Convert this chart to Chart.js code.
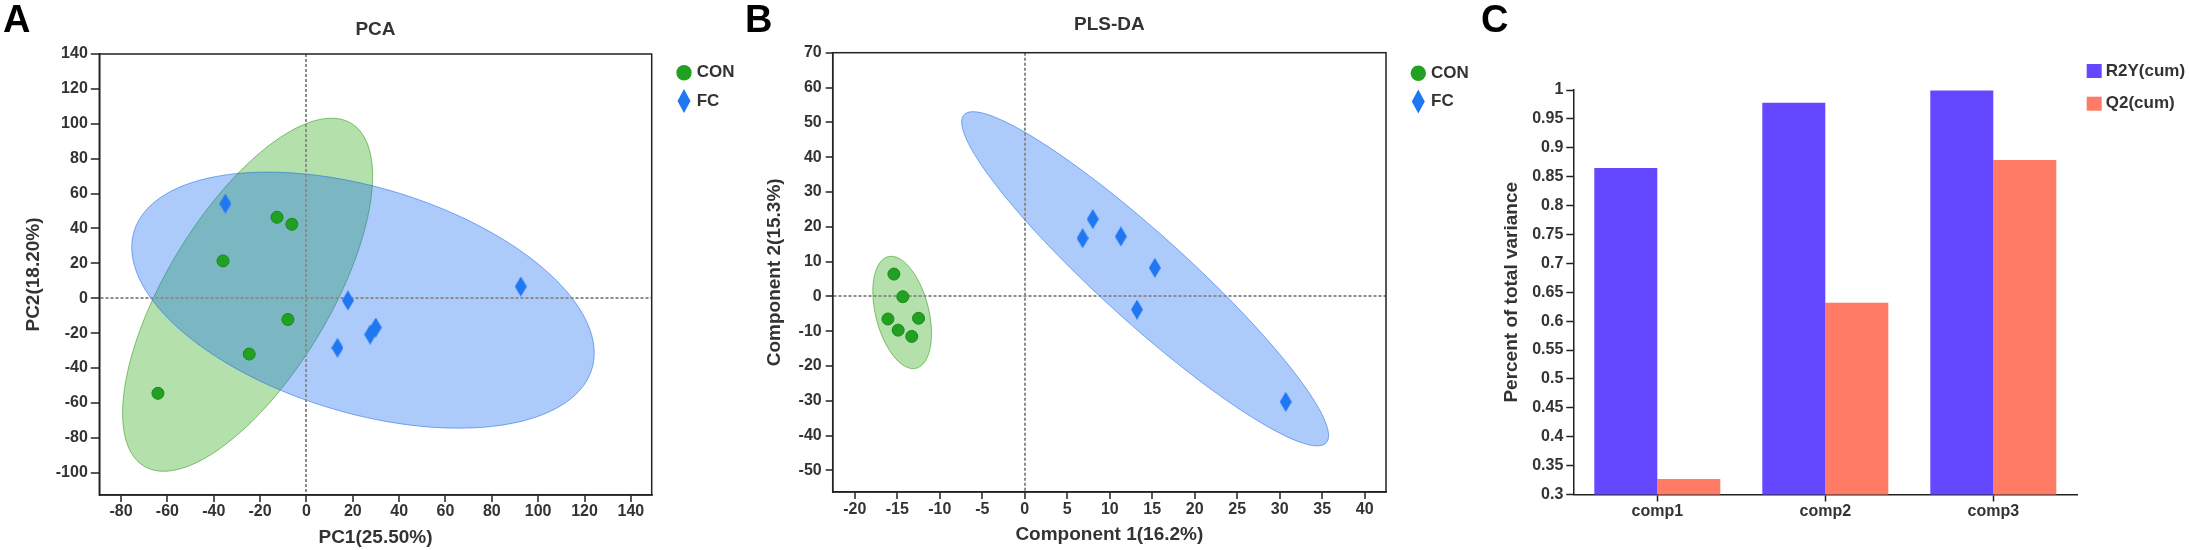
<!DOCTYPE html>
<html>
<head>
<meta charset="utf-8">
<script src="https://cdn.jsdelivr.net/npm/chart.js@4.4.1/dist/chart.umd.min.js"></script>
<style>
  html, body { margin: 0; padding: 0; background: #fff; }
  #wrap { position: relative; width: 2190px; height: 550px; overflow: hidden; }
  canvas { position: absolute; top: 0; }
</style>
</head>
<body>
<div id="wrap">
  <canvas id="pca" width="740" height="550" style="left:0"></canvas>
  <canvas id="plsda" width="760" height="550" style="left:740px"></canvas>
  <canvas id="variance" width="730" height="550" style="left:1460px"></canvas>
</div>
<script>
// ---- PCA scores (panel A) ----
const pcaConX = [-12.7, -6.3, -36.0, -8.0, -24.7, -64.1];
const pcaConY = [46.4, 42.4, 21.4, -12.2, -32.0, -54.5];
const pcaFcX = [-35.0, 17.9, 92.5, 29.9, 27.5, 13.4];
const pcaFcY = [54.2, -1.3, 6.7, -16.8, -20.8, -28.4];
const pcaXTicks = [-80, -60, -40, -20, 0, 20, 40, 60, 80, 100, 120, 140];
const pcaYTicks = [-100, -80, -60, -40, -20, 0, 20, 40, 60, 80, 100, 120, 140];
// ellipses: centre + two conjugate half-axes, in data units
const pcaConEllipse = { center: [-25.4, 2.0], axisA: [36.2, 101.2], axisB: [40, 0] };
const pcaFcEllipse = { center: [24.4, -1.1], axisA: [-41.2, 73.4], axisB: [90.9, 0] };

// ---- PLS-DA scores (panel B) ----
const plsConX = [-15.4, -14.35, -16.1, -12.5, -14.9, -13.3];
const plsConY = [6.4, -0.1, -6.5, -6.3, -9.7, -11.5];
const plsFcX = [8.0, 6.8, 11.3, 15.3, 13.2, 30.7];
const plsFcY = [22.2, 16.7, 17.2, 8.2, -3.8, -30.3];
const plsXTicks = [-20, -15, -10, -5, 0, 5, 10, 15, 20, 25, 30, 35, 40];
const plsYTicks = [-50, -40, -30, -20, -10, 0, 10, 20, 30, 40, 50, 60, 70];
const plsConEllipse = { center: [-14.43, -4.62], axisA: [-1.29, 16.13], axisB: [3.2, 0] };
const plsFcEllipse = { center: [14.16, 5.05], axisA: [-20.24, 48.0], axisB: [7.5, 0] };

// ---- cumulative variance (panel C) ----
const comps = ["comp1", "comp2", "comp3"];
const r2yCum = [0.865, 0.978, 0.999];
const q2Cum = [0.327, 0.632, 0.879];
const varTicks = [0.3, 0.35, 0.4, 0.45, 0.5, 0.55, 0.6, 0.65, 0.7, 0.75, 0.8, 0.85, 0.9, 0.95, 1];

const FONT = "'Liberation Sans', Arial, Helvetica, sans-serif";
Chart.defaults.font.family = FONT;
Chart.defaults.font.weight = "bold";
Chart.defaults.color = "#333";
Chart.defaults.animation = false;

const GREEN = "#22a022";
const BLUE = "#1f78f2";
const PURPLE = "#6448ff";
const SALMON = "#ff7b65";

function diamondImage(w, h, color) {
  const c = document.createElement("canvas");
  c.width = w; c.height = h;
  const g = c.getContext("2d");
  g.fillStyle = color;
  g.beginPath();
  g.moveTo(w / 2, 0); g.lineTo(w, h / 2); g.lineTo(w / 2, h); g.lineTo(0, h / 2);
  g.closePath(); g.fill();
  return c;
}
const fcMarker = diamondImage(12, 20, BLUE);

function zip(xs, ys) {
  return xs.map((x, i) => ({ x: x, y: ys[i] }));
}

// confidence ellipses drawn behind the grid and points
function ellipsePlugin(list) {
  return {
    id: "ellipses",
    beforeDraw(chart) {
      const { ctx, chartArea: a, scales: { x, y } } = chart;
      ctx.save();
      ctx.beginPath(); ctx.rect(a.left, a.top, a.width, a.height); ctx.clip();
      list.forEach(e => {
        ctx.beginPath();
        for (let i = 0; i <= 180; i++) {
          const t = i / 180 * Math.PI * 2;
          const px = x.getPixelForValue(e.shape.center[0] + e.shape.axisA[0] * Math.cos(t) + e.shape.axisB[0] * Math.sin(t));
          const py = y.getPixelForValue(e.shape.center[1] + e.shape.axisA[1] * Math.cos(t) + e.shape.axisB[1] * Math.sin(t));
          if (i === 0) ctx.moveTo(px, py); else ctx.lineTo(px, py);
        }
        ctx.closePath();
        ctx.fillStyle = e.fill; ctx.fill();
        ctx.lineWidth = 1; ctx.strokeStyle = e.stroke; ctx.stroke();
      });
      ctx.restore();
    }
  };
}

const framePlugin = {
  id: "frame",
  afterDraw(chart) {
    const { ctx, chartArea: a } = chart;
    ctx.save();
    ctx.lineWidth = 1.5; ctx.strokeStyle = "#222";
    ctx.strokeRect(a.left, a.top, a.width, a.height);
    ctx.restore();
  }
};

function letterPlugin(letter, x) {
  return {
    id: "letter",
    afterDraw(chart) {
      const ctx = chart.ctx;
      ctx.save();
      ctx.font = "bold 38px " + FONT;
      ctx.fillStyle = "#000";
      ctx.textBaseline = "alphabetic";
      ctx.fillText(letter, x, 31.5);
      ctx.restore();
    }
  };
}

function drawCircle(ctx, x, y) {
  ctx.fillStyle = GREEN;
  ctx.beginPath(); ctx.arc(x, y, 7.7, 0, Math.PI * 2); ctx.fill();
}
function drawDiamond(ctx, x, y) {
  ctx.fillStyle = BLUE;
  ctx.beginPath();
  ctx.moveTo(x, y - 12); ctx.lineTo(x + 6.5, y); ctx.lineTo(x, y + 12); ctx.lineTo(x - 6.5, y);
  ctx.closePath(); ctx.fill();
}
function squareOf(color) {
  return (ctx, x, y) => { ctx.fillStyle = color; ctx.fillRect(x - 7.5, y - 7, 15, 14); };
}

function legendPlugin(items, dx, dy, gap, textGap) {
  return {
    id: "sideLegend",
    afterDraw(chart) {
      const { ctx, chartArea: a } = chart;
      ctx.save();
      ctx.font = "bold 17px " + FONT;
      ctx.textBaseline = "middle";
      items.forEach((it, i) => {
        const cx = a.right + dx, cy = a.top + dy + i * gap;
        it.marker(ctx, cx, cy);
        ctx.fillStyle = "#333";
        ctx.fillText(it.label, cx + textGap, cy);
      });
      ctx.restore();
    }
  };
}

function scatterOptions(cfg) {
  const tickFont = { size: 16, weight: "bold" };
  const titleFont = { size: 19, weight: "bold" };
  const zeroGrid = c => (c.tick && c.tick.value === 0) ? "#8c8c8c" : "rgba(0,0,0,0)";
  return {
    responsive: false,
    layout: { padding: { left: 0, right: cfg.padRight, top: 0, bottom: 0 } },
    plugins: {
      legend: { display: false },
      tooltip: { enabled: false },
      title: {
        display: true, text: cfg.title, fullSize: false, font: titleFont, color: "#333",
        padding: { top: cfg.titleTop, bottom: cfg.titleBottom }
      }
    },
    scales: {
      x: {
        type: "linear", min: cfg.xMin, max: cfg.xMax,
        afterBuildTicks: s => { s.ticks = cfg.xTicks.map(v => ({ value: v })); },
        afterFit: s => { s.height = cfg.xHeight; },
        ticks: { font: tickFont, color: "#333", padding: cfg.xTickPad, maxRotation: 0, autoSkip: false },
        grid: { color: zeroGrid, lineWidth: 2, tickColor: "#222", tickLength: 7, tickWidth: 1.5 },
        border: { display: true, color: "#222", width: 1.5, dash: [3, 2] },
        title: { display: true, text: cfg.xTitle, font: titleFont, color: "#333", padding: { top: 0, bottom: cfg.xTitlePad } }
      },
      y: {
        type: "linear", min: cfg.yMin, max: cfg.yMax,
        afterBuildTicks: s => { s.ticks = cfg.yTicks.map(v => ({ value: v })); },
        afterFit: s => { s.width = cfg.yWidth; },
        ticks: { font: tickFont, color: "#333", padding: cfg.yTickPad, autoSkip: false },
        grid: { color: zeroGrid, lineWidth: 2, tickColor: "#222", tickLength: cfg.yTickLen, tickWidth: 1.5 },
        border: { display: true, color: "#222", width: 1.5, dash: [3, 2] },
        title: { display: true, text: cfg.yTitle, font: titleFont, color: "#333", padding: { top: cfg.yTitlePad, bottom: 0 } }
      }
    }
  };
}

function scatterData(conX, conY, fcX, fcY) {
  return {
    datasets: [
      { label: "CON", data: zip(conX, conY), pointStyle: "circle", pointRadius: 6,
        backgroundColor: GREEN, borderColor: "#178a17", borderWidth: 1 },
      { label: "FC", data: zip(fcX, fcY), pointStyle: fcMarker, pointRadius: 8,
        backgroundColor: BLUE, borderColor: BLUE }
    ]
  };
}

const groupLegend = [
  { label: "CON", marker: drawCircle },
  { label: "FC", marker: drawDiamond }
];

// Panel A: PCA
new Chart(document.getElementById("pca"), {
  type: "scatter",
  data: scatterData(pcaConX, pcaConY, pcaFcX, pcaFcY),
  options: scatterOptions({
    title: "PCA", titleTop: 18, titleBottom: 13.2, padRight: 88.3,
    xMin: -89.4, xMax: 149, xTicks: pcaXTicks, xHeight: 55, xTickPad: 0, xTitle: "PC1(25.50%)", xTitlePad: 1,
    yMin: -112.8, yMax: 140, yTicks: pcaYTicks, yWidth: 99.3, yTickPad: 3, yTickLen: 8.5, yTitle: "PC2(18.20%)", yTitlePad: 22
  }),
  plugins: [
    ellipsePlugin([
      { shape: pcaConEllipse, fill: "rgba(41,166,18,0.35)", stroke: "rgba(41,150,18,0.55)" },
      { shape: pcaFcEllipse, fill: "rgba(18,106,241,0.35)", stroke: "rgba(18,96,221,0.5)" }
    ]),
    framePlugin,
    legendPlugin(groupLegend, 32.3, 18.7, 28.3, 12.7),
    letterPlugin("A", 3)
  ]
});

// Panel B: PLS-DA (canvas runs under panel C so the legend text is not cut)
new Chart(document.getElementById("plsda"), {
  type: "scatter",
  data: scatterData(plsConX, plsConY, plsFcX, plsFcY),
  options: scatterOptions({
    title: "PLS-DA", titleTop: 13.5, titleBottom: 16.4, padRight: 114,
    xMin: -22.6, xMax: 42.5, xTicks: plsXTicks, xHeight: 58, xTickPad: 1, xTitle: "Component 1(16.2%)", xTitlePad: 3.5,
    yMin: -56.2, yMax: 70, yTicks: plsYTicks, yWidth: 92.7, yTickPad: 4, yTickLen: 7, yTitle: "Component 2(15.3%)", yTitlePad: 23.7
  }),
  plugins: [
    ellipsePlugin([
      { shape: plsConEllipse, fill: "rgba(41,166,18,0.35)", stroke: "rgba(41,150,18,0.55)" },
      { shape: plsFcEllipse, fill: "rgba(18,106,241,0.35)", stroke: "rgba(18,96,221,0.5)" }
    ]),
    framePlugin,
    legendPlugin(groupLegend, 32.3, 20.5, 28.3, 12.7),
    letterPlugin("B", 5)
  ]
});

// Panel C: R2Y / Q2
new Chart(document.getElementById("variance"), {
  type: "bar",
  data: {
    labels: comps,
    datasets: [
      { label: "R2Y(cum)", data: r2yCum, backgroundColor: PURPLE, categoryPercentage: 0.75, barPercentage: 1 },
      { label: "Q2(cum)", data: q2Cum, backgroundColor: SALMON, categoryPercentage: 0.75, barPercentage: 1 }
    ]
  },
  options: {
    responsive: false,
    layout: { padding: { left: 0, right: 112.7, top: 90, bottom: 0 } },
    plugins: { legend: { display: false }, tooltip: { enabled: false } },
    scales: {
      x: {
        afterFit: s => { s.height = 55.5; },
        ticks: { font: { size: 16, weight: "bold" }, color: "#333", padding: 0 },
        grid: { offset: false, drawOnChartArea: false, tickColor: "#222", tickLength: 7, tickWidth: 1.5 },
        border: { display: true, color: "#222", width: 1.5 }
      },
      y: {
        min: 0.3, max: 1,
        afterBuildTicks: s => { s.ticks = varTicks.map(v => ({ value: v })); },
        afterFit: s => { s.width = 113.3; },
        ticks: { font: { size: 16, weight: "bold" }, color: "#333", padding: 3, autoSkip: false,
          callback: v => String(Number(v.toFixed(2))) },
        grid: { drawOnChartArea: false, tickColor: "#222", tickLength: 7, tickWidth: 1.5 },
        border: { display: true, color: "#222", width: 1.5 },
        title: { display: true, text: "Percent of total variance", font: { size: 19, weight: "bold" },
          color: "#333", padding: { top: 40.5, bottom: 0 } }
      }
    }
  },
  plugins: [
    legendPlugin([
      { label: "R2Y(cum)", marker: squareOf(PURPLE) },
      { label: "Q2(cum)", marker: squareOf(SALMON) }
    ], 16.9, -19, 32.7, 11.5),
    letterPlugin("C", 21)
  ]
});
</script>
</body>
</html>
